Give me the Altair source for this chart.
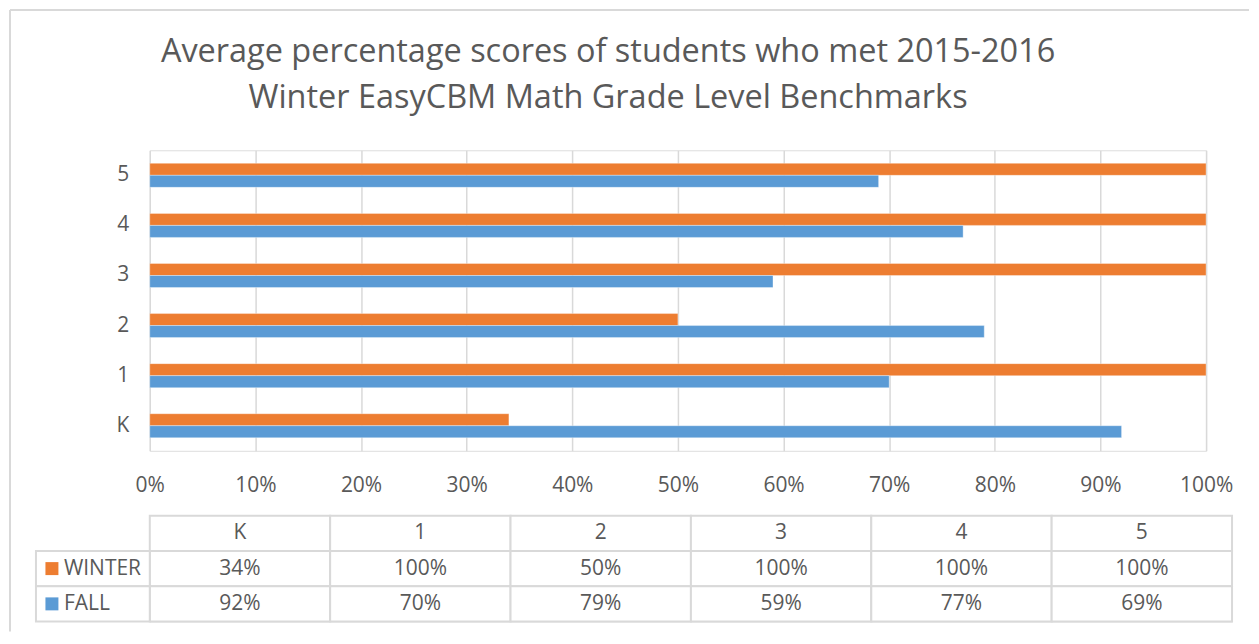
import altair as alt
import pandas as pd

categories = ["K", "1", "2", "3", "4", "5"]
series = ["WINTER", "FALL"]
winter = [0.34, 1.00, 0.50, 1.00, 1.00, 1.00]
fall = [0.92, 0.70, 0.79, 0.59, 0.77, 0.69]
colors = ["#ED7D31", "#5B9BD5"]
x_ticks = [0, 0.1, 0.2, 0.3, 0.4, 0.5, 0.6, 0.7, 0.8, 0.9, 1.0]
title_lines = ["Average percentage scores of students who met 2015-2016",
               "Winter EasyCBM Math Grade Level Benchmarks"]

FONT = "Open Sans"
GRAY = "#595959"
GRID = "#d9d9d9"

rows = []
for c, w, f in zip(categories, winter, fall):
    rows.append({"grade": c, "series": "WINTER", "value": w})
    rows.append({"grade": c, "series": "FALL", "value": f})
df = pd.DataFrame(rows)

color_scale = alt.Scale(domain=series, range=colors)

bars = alt.Chart(df).mark_bar(stroke="white", strokeOpacity=0.35, strokeWidth=1).encode(
    x=alt.X("value:Q", scale=alt.Scale(domain=[0, 1], nice=False),
            axis=alt.Axis(values=x_ticks, format=".0%", title=None, grid=True,
                          gridColor=GRID, gridWidth=1.5, domain=False, ticks=False,
                          labelFlush=False,
                          labelFont=FONT, labelFontSize=21, labelColor=GRAY,
                          labelPadding=24)),
    y=alt.Y("grade:N", sort=list(reversed(categories)),
            scale=alt.Scale(paddingInner=0.52, paddingOuter=0.26),
            axis=alt.Axis(title=None, ticks=False, domain=False,
                          labelFont=FONT, labelFontSize=21, labelColor=GRAY,
                          labelPadding=21)),
    yOffset=alt.YOffset("series:N", sort=series, scale=alt.Scale(paddingInner=0, paddingOuter=0)),
    color=alt.Color("series:N", scale=color_scale, legend=None),
)

one = pd.DataFrame({"k": [0]})
title1 = alt.Chart(pd.DataFrame({"t": [title_lines[0]]})).mark_text(
    font=FONT, fontSize=32.5, color=GRAY, align="center", baseline="alphabetic").encode(
    x=alt.value(459), y=alt.value(-88), text="t:N")
title2 = alt.Chart(pd.DataFrame({"t": [title_lines[1]]})).mark_text(
    font=FONT, fontSize=32.5, color=GRAY, align="center", baseline="alphabetic").encode(
    x=alt.value(459), y=alt.value(-42.5), text="t:N")

# outer chart frame (left and top edges)
frame_left = alt.Chart(one).mark_rule(color=GRID, strokeWidth=2).encode(
    x=alt.value(-140), y=alt.value(-140.5), y2=alt.value(482))
frame_top = alt.Chart(one).mark_rule(color=GRID, strokeWidth=2).encode(
    x=alt.value(-140), x2=alt.value(1101), y=alt.value(-140.5))

top = alt.layer(frame_left, frame_top, title1, title2, bars).properties(width=1058, height=301)

# table
trows = []
for c, w, f in zip(categories, winter, fall):
    trows.append({"grade": c, "row": "header", "label": c})
    trows.append({"grade": c, "row": "WINTER", "label": f"{round(w*100)}%"})
    trows.append({"grade": c, "row": "FALL", "label": f"{round(f*100)}%"})
tdf = pd.DataFrame(trows)
row_order = ["header", "WINTER", "FALL"]

xt = alt.X("grade:N", sort=categories, scale=alt.Scale(paddingInner=0, paddingOuter=0), axis=None)
yt = alt.Y("row:N", sort=row_order, scale=alt.Scale(paddingInner=0, paddingOuter=0), axis=None)

cells = alt.Chart(tdf).mark_rect(fill="white", stroke=GRID, strokeWidth=2).encode(x=xt, y=yt)
texts = alt.Chart(tdf).mark_text(font=FONT, fontSize=21, color=GRAY).encode(
    x=alt.X("grade:N", sort=categories, bandPosition=0.5, scale=alt.Scale(paddingInner=0, paddingOuter=0), axis=None),
    y=alt.Y("row:N", sort=row_order, bandPosition=0.5, scale=alt.Scale(paddingInner=0, paddingOuter=0), axis=None),
    text="label:N")

ldf = pd.DataFrame({"row": series, "series": series})
leg_cells = alt.Chart(ldf).mark_rect(fill="white", stroke=GRID, strokeWidth=2).encode(
    x=alt.value(-114), x2=alt.value(0), y=yt)
leg_sw = alt.Chart(ldf).mark_square(size=169, opacity=1).encode(
    x=alt.value(-98), y=alt.Y("row:N", sort=row_order, bandPosition=0.5, axis=None),
    color=alt.Color("series:N", scale=color_scale, legend=None))
leg_txt = alt.Chart(ldf).mark_text(font=FONT, fontSize=21, color=GRAY, align="left").encode(
    x=alt.value(-86), y=alt.Y("row:N", sort=row_order, bandPosition=0.5, axis=None), text="series:N")

table = alt.layer(cells, leg_cells, texts, leg_sw, leg_txt).properties(width=1084, height=106)

chart = alt.vconcat(top, table, spacing=65, bounds="flush").properties(
    padding={"left": 0, "top": 0, "right": 0, "bottom": 0},
).configure_view(stroke=None).configure(background="white")

chart.save("out.html", embed_options={"renderer": "svg", "actions": False})
